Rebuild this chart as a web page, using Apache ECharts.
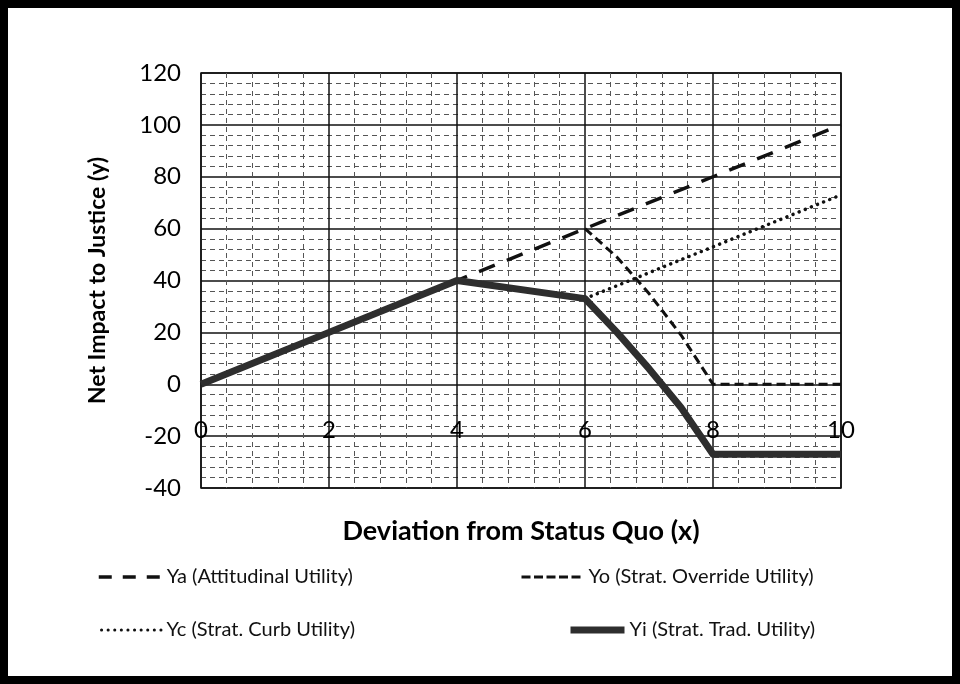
<!DOCTYPE html>
<html>
<head>
<meta charset="utf-8">
<script src="https://cdn.jsdelivr.net/npm/echarts@6/dist/echarts.min.js"></script>
<style>
  html, body { margin: 0; padding: 0; background: #fff; }
  #chart { width: 960px; height: 684px; }
</style>
</head>
<body>
<div id="chart"></div>
<script>
// x ticks and y ticks
const xTicks = [0, 2, 4, 6, 8, 10];
const yTicks = [-40, -20, 0, 20, 40, 60, 80, 100, 120];

// series as [x, y] pairs
const yaData = [[0, 0], [2, 20], [4, 40], [6, 60], [8, 80], [10, 100]];
const yoData = [[6, 60], [6.5, 49], [7, 35], [7.5, 19], [8, 0], [10, 0]];
const ycData = [[6, 33], [8, 53], [10, 73]];
const yiData = [[0, 0], [2, 20], [4, 40], [6, 33], [6.5, 20], [7, 6], [7.5, -9], [8, -27], [10, -27]];

const seriesNames = [
  "Ya (Attitudinal Utility)",
  "Yo (Strat. Override Utility)",
  "Yc (Strat. Curb Utility)",
  "Yi (Strat. Trad. Utility)"
];

const FONT = "Lato";

// line looks of the series
const styles = [
  { color: "#111", width: 3.5, type: [17, 13] },
  { color: "#111", width: 3, type: [9, 5] },
  { color: "#111", width: 3.5, type: [0.1, 6.5], cap: "round" },
  { color: "#2e2e2e", width: 7, type: "solid", join: "round" }
];
// dash patterns used for the short legend keys
const legendDash = [[13, 11], [9, 3.5], [0.1, 6.5], "solid"];

const chart = echarts.init(document.getElementById("chart"));

function legendAt(i, left, top, width) {
  return {
    data: [seriesNames[i]],
    left: left,
    top: top,
    itemWidth: width,
    itemHeight: 14,
    itemGap: 0,
    padding: 0,
    textStyle: { fontFamily: FONT, fontSize: 20, color: "#111" },
    itemStyle: { opacity: 0 },
    lineStyle: Object.assign({}, styles[i], { type: legendDash[i], width: i === 2 ? 3 : styles[i].width }),
    selectedMode: false
  };
}

const option = {
  animation: false,
  backgroundColor: "#fff",
  color: ["#111", "#111", "#111", "#2e2e2e"],
  grid: {
    left: 201,
    right: 119,
    top: 73,
    bottom: 196,
    show: true,
    borderColor: "#111",
    borderWidth: 1.5
  },
  xAxis: {
    type: "value",
    min: xTicks[0],
    max: xTicks[xTicks.length - 1],
    interval: 2,
    offset: -70,
    name: "Deviation from Status Quo (x)",
    nameLocation: "middle",
    nameGap: 100,
    nameTextStyle: { fontFamily: FONT, fontSize: 27, fontWeight: "bold", color: "#000" },
    axisLine: { show: false },
    axisTick: { show: false },
    axisLabel: {
      margin: 0,
      fontFamily: FONT,
      fontSize: 24,
      color: "#000",
      showMinLabel: true,
      showMaxLabel: true
    },
    splitLine: { show: true, lineStyle: { color: "#111", width: 1.5 } },
    minorTick: { show: false, splitNumber: 5 },
    minorSplitLine: { show: true, lineStyle: { color: "#555", width: 1, type: [5, 4] } }
  },
  yAxis: {
    type: "value",
    min: yTicks[0],
    max: yTicks[yTicks.length - 1],
    interval: 20,
    name: "Net Impact to Justice (y)",
    nameLocation: "middle",
    nameGap: 92,
    nameTextStyle: { fontFamily: FONT, fontSize: 23, fontWeight: "bold", color: "#000" },
    axisLine: { show: false },
    axisTick: { show: false },
    axisLabel: { margin: 20, fontFamily: FONT, fontSize: 24, color: "#000" },
    splitLine: { show: true, lineStyle: { color: "#111", width: 1.5 } },
    minorTick: { show: false, splitNumber: 5 },
    minorSplitLine: { show: true, lineStyle: { color: "#555", width: 1, type: [5, 4] } }
  },
  legend: [
    legendAt(0, 97, 567, 63),
    legendAt(1, 520, 567, 62),
    legendAt(2, 100, 620, 60),
    legendAt(3, 567, 620, 54)
  ],
  graphic: [{
    type: "rect",
    shape: { x: 4, y: 4, width: 952, height: 676 },
    style: { fill: null, stroke: "#000", lineWidth: 8 },
    silent: true
  }],
  series: [0, 1, 2, 3].map(function (i) {
    return {
      name: seriesNames[i],
      type: "line",
      data: [yaData, yoData, ycData, yiData][i],
      symbol: "none",
      z: [3, 4, 4, 5][i],
      itemStyle: { color: styles[i].color },
      lineStyle: styles[i]
    };
  })
};

chart.setOption(option);
</script>
</body>
</html>
